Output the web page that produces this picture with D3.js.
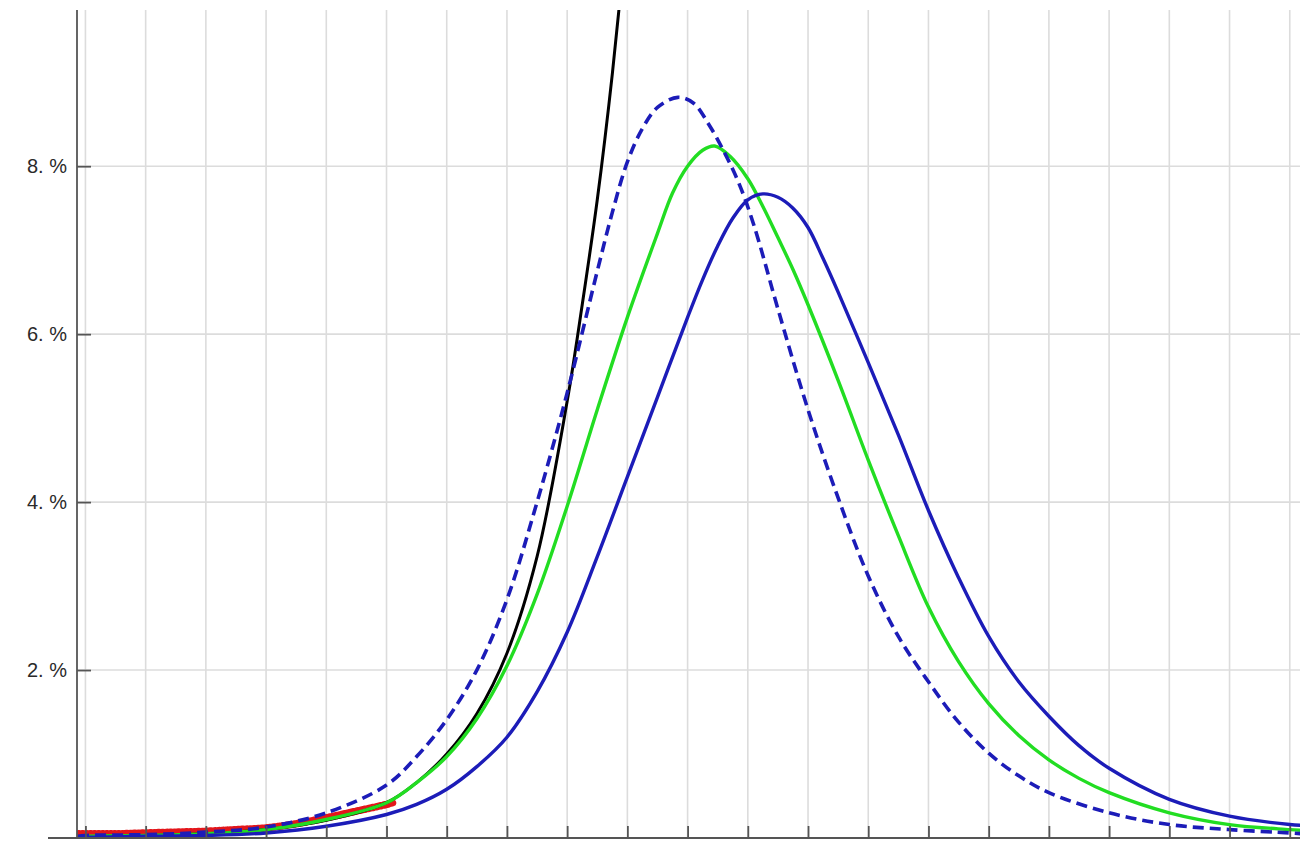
<!DOCTYPE html>
<html>
<head>
<meta charset="utf-8">
<script src="https://cdn.jsdelivr.net/npm/d3@7"></script>
<style>
    html, body { margin: 0; padding: 0; background: #fff; }
    svg { display: block; }
    .grid line { stroke: #dcdcdc; stroke-width: 1.6; }
    .axis path, .axis line { stroke: #555; stroke-width: 1.8; }
    .axis text { fill: #2a2a2a; font-family: "Liberation Sans", Arial, sans-serif; font-size: 20px; }
</style>
</head>
<body>
<svg id="chart" width="1300" height="841"></svg>
<script>
'use strict';

// x is in grid steps (one vertical grid line per step), y in percent
var xTickValues = [0, 1, 2, 3, 4, 5, 6, 7, 8, 9, 10, 11, 12, 13, 14, 15, 16, 17, 18, 19, 20];
var yTickValues = [2, 4, 6, 8];
var yTickLabels = ['2. %', '4. %', '6. %', '8. %'];

var observed = [
    [-0.12, 0.05], [0, 0.05], [0.5, 0.05], [1, 0.06], [1.5, 0.07], [2, 0.08], [2.5, 0.1],
    [3, 0.12], [3.5, 0.17], [4, 0.24], [4.5, 0.32], [5, 0.4], [5.1, 0.42]
];

var exponentialFit = [
    [-0.12, 0.01], [0, 0.015], [1, 0.03], [2, 0.05], [3, 0.1], [4, 0.21], [5, 0.42],
    [5.5, 0.66], [6, 1.0], [6.5, 1.48], [7, 2.2], [7.5, 3.35], [8, 5.2], [8.25, 6.35],
    [8.5, 7.6], [8.75, 9.1], [9, 10.9]
];

var greenModel = [
    [-0.12, 0.01], [0, 0.02], [1, 0.03], [2, 0.05], [3, 0.1], [4, 0.22], [5, 0.42],
    [5.5, 0.66], [6, 0.97], [6.5, 1.42], [7, 2.05], [7.5, 2.9], [8, 3.95], [8.5, 5.1],
    [9, 6.2], [9.5, 7.2], [9.75, 7.68], [10, 8.0], [10.25, 8.19], [10.45, 8.24], [10.7, 8.12],
    [11, 7.85], [11.25, 7.52], [11.5, 7.15], [11.75, 6.77], [12, 6.35], [12.5, 5.45],
    [13, 4.5], [13.5, 3.6], [14, 2.75], [14.5, 2.1], [15, 1.6], [15.5, 1.22], [16, 0.93],
    [16.5, 0.71], [17, 0.54], [18, 0.3], [19, 0.16], [20, 0.1], [20.2, 0.09]
];

var blueModel = [
    [-0.12, 0.005], [0, 0.01], [1, 0.02], [2, 0.03], [3, 0.06], [4, 0.14], [5, 0.28],
    [5.5, 0.4], [6, 0.58], [6.5, 0.85], [7, 1.2], [7.5, 1.74], [8, 2.45], [8.5, 3.35],
    [9, 4.3], [9.5, 5.25], [10, 6.2], [10.25, 6.65], [10.5, 7.05], [10.75, 7.38], [11, 7.6],
    [11.25, 7.67], [11.5, 7.63], [11.75, 7.5], [12, 7.27], [12.25, 6.9], [12.5, 6.5],
    [13, 5.66], [13.5, 4.8], [14, 3.9], [14.5, 3.1], [15, 2.4], [15.5, 1.86], [16, 1.45],
    [16.5, 1.1], [17, 0.83], [18, 0.46], [19, 0.26], [20, 0.16], [20.2, 0.15]
];

var blueDashedModel = [
    [-0.12, 0.02], [0, 0.03], [1, 0.04], [2, 0.07], [3, 0.13], [4, 0.3], [5, 0.63],
    [5.5, 0.97], [6, 1.41], [6.5, 2.0], [7, 2.84], [7.5, 4.0], [8, 5.3], [8.5, 6.75],
    [8.75, 7.45], [9, 8.05], [9.25, 8.45], [9.5, 8.7], [9.84, 8.82], [10.1, 8.75],
    [10.35, 8.5], [10.6, 8.18], [10.85, 7.8], [11.1, 7.3], [11.5, 6.3], [12, 5.1],
    [12.5, 4.05], [13, 3.12], [13.5, 2.4], [14, 1.86], [14.5, 1.38], [15, 1.01], [15.5, 0.74],
    [16, 0.54], [17, 0.3], [18, 0.16], [19, 0.1], [20, 0.06], [20.2, 0.05]
];

(function () {
    var svg = d3.select('#chart'),
        width = +svg.attr('width'),
        axisX = 77,
        axisY = 838,
        top = 10,
        x,
        y,
        line,
        plot;

    x = d3.scaleLinear()
        .domain([-0.14, 20.17])
        .range([axisX, width]);

    y = d3.scaleLinear()
        .domain([0, 9.86])
        .range([axisY, top]);

    line = d3.line()
        .x(function (d) { return x(d[0]); })
        .y(function (d) { return y(d[1]); })
        .curve(d3.curveCatmullRom.alpha(0.5));

    svg.append('clipPath')
        .attr('id', 'plot-clip')
        .append('rect')
        .attr('x', axisX)
        .attr('y', top)
        .attr('width', width - axisX)
        .attr('height', axisY - top);

    // grid
    svg.append('g')
        .attr('class', 'grid')
        .selectAll('line.v')
        .data(xTickValues)
        .enter()
        .append('line')
        .attr('x1', x)
        .attr('x2', x)
        .attr('y1', top)
        .attr('y2', axisY);

    svg.append('g')
        .attr('class', 'grid')
        .selectAll('line.h')
        .data(yTickValues)
        .enter()
        .append('line')
        .attr('x1', axisX)
        .attr('x2', width)
        .attr('y1', y)
        .attr('y2', y);

    plot = svg.append('g')
        .attr('clip-path', 'url(#plot-clip)');

    plot.append('path')
        .datum(observed)
        .attr('d', line)
        .attr('fill', 'none')
        .attr('stroke', '#e3161b')
        .attr('stroke-width', 7.5)
        .attr('stroke-linecap', 'round')
        .attr('stroke-dasharray', '1 3');

    plot.append('path')
        .datum(exponentialFit)
        .attr('d', line)
        .attr('fill', 'none')
        .attr('stroke', '#000')
        .attr('stroke-width', 3);

    plot.append('path')
        .datum(greenModel)
        .attr('d', line)
        .attr('fill', 'none')
        .attr('stroke', '#22dd22')
        .attr('stroke-width', 3.4);

    plot.append('path')
        .datum(blueModel)
        .attr('d', line)
        .attr('fill', 'none')
        .attr('stroke', '#1c1cb8')
        .attr('stroke-width', 3.4);

    plot.append('path')
        .datum(blueDashedModel)
        .attr('d', line)
        .attr('fill', 'none')
        .attr('stroke', '#1c1cb8')
        .attr('stroke-width', 3.6)
        .attr('stroke-dasharray', '11 6');

    // axes
    svg.append('g')
        .attr('class', 'axis')
        .attr('transform', 'translate(0,' + axisY + ')')
        .call(d3.axisBottom(x)
            .tickValues(xTickValues)
            .tickSizeInner(-12)
            .tickSizeOuter(0)
            .tickFormat(''))
        .call(function (g) { g.select('.domain').remove(); });

    svg.append('line')
        .attr('x1', 48)
        .attr('x2', width)
        .attr('y1', axisY)
        .attr('y2', axisY)
        .attr('stroke', '#555')
        .attr('stroke-width', 2);

    svg.append('g')
        .attr('class', 'axis')
        .attr('transform', 'translate(' + axisX + ',0)')
        .call(d3.axisLeft(y)
            .tickValues(yTickValues)
            .tickSizeInner(-14)
            .tickSizeOuter(0)
            .tickPadding(10)
            .tickFormat(function (d, i) { return yTickLabels[i]; }))
        .call(function (g) {
            g.select('.domain')
                .attr('d', 'M0,' + top + 'V' + axisY);
        });
}());
</script>
</body>
</html>
